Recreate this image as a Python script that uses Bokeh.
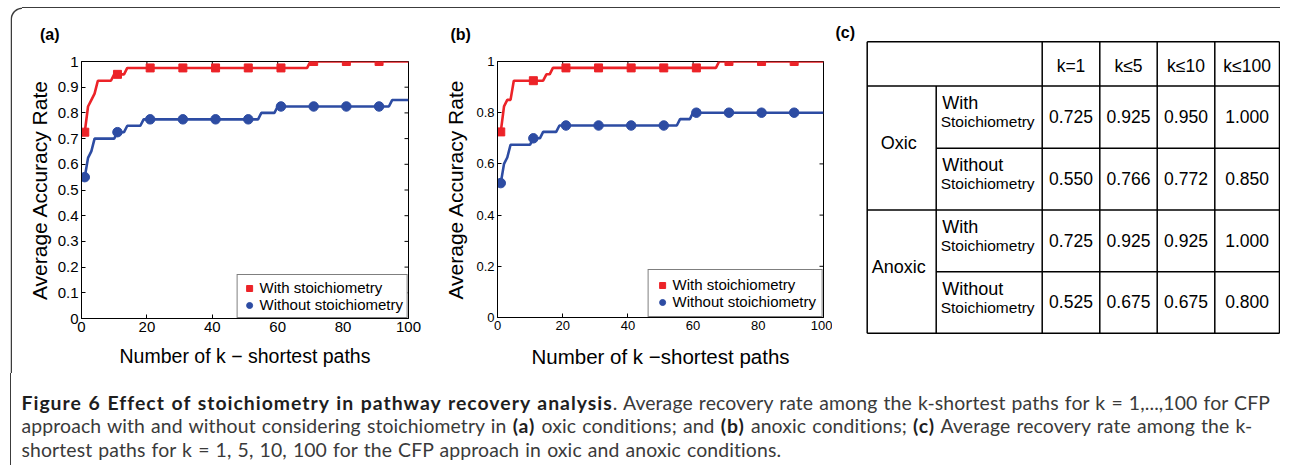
import math
from bokeh.plotting import figure
from bokeh.models import Range1d, FixedTicker, Div
from bokeh.layouts import row, column
from bokeh.embed import file_html
from bokeh.resources import INLINE
from bokeh.core.properties import value

# ---------------- data ----------------
marker_k = [1, 11, 21, 31, 41, 51, 61, 71, 81, 91]

# (a) oxic
a_with_k = [1, 2, 3, 4, 5, 9, 10, 13, 14, 69, 70, 100]
a_with_v = [0.725, 0.825, 0.85, 0.875, 0.925, 0.925, 0.95, 0.95, 0.975, 0.975, 1.0, 1.0]
a_without_k = [1, 2, 3, 4, 10, 11, 13, 14, 18, 19, 54, 55, 59, 60, 94, 95, 100]
a_without_v = [0.55, 0.625, 0.65, 0.70, 0.70, 0.725, 0.725, 0.75, 0.75, 0.775, 0.775, 0.80, 0.80, 0.825, 0.825, 0.85, 0.85]
a_with_marker = [0.725, 0.95, 0.975, 0.975, 0.975, 0.975, 0.975, 1.0, 1.0, 1.0]
a_without_marker = [0.55, 0.725, 0.775, 0.775, 0.775, 0.775, 0.825, 0.825, 0.825, 0.825]

# (b) anoxic
b_with_k = [1, 2, 3, 4, 5, 14, 15, 16, 17, 67, 68, 100]
b_with_v = [0.725, 0.825, 0.85, 0.85, 0.925, 0.925, 0.95, 0.95, 0.975, 0.975, 1.0, 1.0]
b_without_k = [1, 2, 3, 4, 10, 11, 13, 14, 18, 19, 55, 56, 59, 60, 100]
b_without_v = [0.525, 0.60, 0.625, 0.675, 0.675, 0.70, 0.70, 0.725, 0.725, 0.75, 0.75, 0.775, 0.775, 0.80, 0.80]
b_with_marker = [0.725, 0.925, 0.975, 0.975, 0.975, 0.975, 0.975, 1.0, 1.0, 1.0]
b_without_marker = [0.525, 0.70, 0.75, 0.75, 0.75, 0.75, 0.80, 0.80, 0.80, 0.80]

x_ticks = [0, 20, 40, 60, 80, 100]
a_y_ticks = [0, 0.1, 0.2, 0.3, 0.4, 0.5, 0.6, 0.7, 0.8, 0.9, 1]
b_y_ticks = [0, 0.2, 0.4, 0.6, 0.8, 1]

series_labels = ["With stoichiometry", "Without stoichiometry"]

# (c) table
table_header = ["k=1", "k\u22645", "k\u226410", "k\u2264100"]
conditions = ["Oxic", "Anoxic"]
method_top = ["With", "Without", "With", "Without"]
method_bottom = "Stoichiometry"
oxic_with = [0.725, 0.925, 0.950, 1.000]
oxic_without = [0.550, 0.766, 0.772, 0.850]
anoxic_with = [0.725, 0.925, 0.925, 1.000]
anoxic_without = [0.525, 0.675, 0.675, 0.800]

caption_lines = [
    "<b>Figure 6 Effect of stoichiometry in pathway recovery analysis</b>. Average recovery rate among the k-shortest paths for k = 1,...,100 for CFP",
    "approach with and without considering stoichiometry in <b>(a)</b> oxic conditions; and <b>(b)</b> anoxic conditions; <b>(c)</b> Average recovery rate among the k-",
    "shortest paths for k = 1, 5, 10, 100 for the CFP approach in oxic and anoxic conditions.",
]

RED = "#EC2328"
BLUE = "#2D4CA3"
FONT = "Liberation Sans"
FRAME = "#3c3c3c"
H = 364


def style_axis(ax, tick_size, label_size):
    ax.axis_line_color = "black"
    ax.axis_line_width = 1
    ax.major_tick_in = 4
    ax.major_tick_out = 0
    ax.major_tick_line_color = "black"
    ax.minor_tick_line_color = None
    ax.major_label_text_font = FONT
    ax.major_label_text_color = "black"
    ax.major_label_standoff = 3
    ax.major_label_text_font_size = tick_size
    ax.axis_label_text_font = FONT
    ax.axis_label_text_font_style = "normal"
    ax.axis_label_text_color = "black"
    ax.axis_label_text_font_size = label_size


def panel(letter, title_offset, wk, wv, wok, wov, wm, wom, yticks, width, borders,
          tick_size, xlabel, xlabel_size, ylabel_size, xlabel_standoff, ylabel_standoff,
          leg_pad):
    p = figure(width=width, height=H, x_range=Range1d(0, 100), y_range=Range1d(0, 1),
               output_backend="svg", toolbar_location=None, title=letter,
               min_border_left=borders[0], min_border_right=borders[1],
               min_border_top=borders[2], min_border_bottom=borders[3])
    p.frame_align = False
    p.outline_line_color = "black"
    p.xgrid.visible = False
    p.ygrid.visible = False
    p.xaxis.ticker = FixedTicker(ticks=x_ticks)
    p.yaxis.ticker = FixedTicker(ticks=yticks)
    p.yaxis.major_label_overrides = {0: "0", 1: "1"}
    p.xaxis.axis_label = xlabel
    p.yaxis.axis_label = "Average Accuracy Rate"
    style_axis(p.xaxis[0], tick_size, xlabel_size)
    style_axis(p.yaxis[0], tick_size, ylabel_size)
    p.xaxis.axis_label_standoff = xlabel_standoff
    p.yaxis.axis_label_standoff = ylabel_standoff

    p.title.align = "left"
    p.title.offset = title_offset
    p.title.text_font = FONT
    p.title.text_font_style = "bold"
    p.title.text_font_size = "16px"
    p.title.text_color = "black"
    p.title.vertical_align = "top"
    p.title.standoff = 34

    # inner ticks on the right and top edges (MATLAB box style)
    p.ray(x=[100] * len(yticks), y=yticks, length=4, length_units="screen",
          angle=math.pi, line_color="black", line_width=1)
    p.ray(x=x_ticks, y=[1] * len(x_ticks), length=4, length_units="screen",
          angle=-math.pi / 2, line_color="black", line_width=1)

    p.line(wk, wv, line_color=RED, line_width=2.6)
    p.line(wok, wov, line_color=BLUE, line_width=2.6)
    p.scatter(marker_k, wm, marker="square", size=8, color=RED, legend_label=series_labels[0])
    p.scatter(marker_k, wom, marker="circle", size=9.5, color=BLUE, legend_label=series_labels[1])

    lg = p.legend[0]
    lg.location = "bottom_right"
    lg.margin = 0
    lg.padding = leg_pad
    lg.spacing = 0
    lg.border_line_color = "black"
    lg.border_line_width = 1
    lg.background_fill_alpha = 1
    lg.label_text_font = FONT
    lg.label_text_font_size = "15px"
    lg.label_text_color = "black"
    lg.label_height = 16
    lg.glyph_height = 16
    lg.glyph_width = 15
    lg.label_standoff = 3
    return p


pa = panel("(a)", -41.5, a_with_k, a_with_v, a_without_k, a_without_v,
           a_with_marker, a_without_marker, a_y_ticks, 403, (59, 17, 52, 54),
           "15px", "Number of k \u2212 shortest paths", "19.5px", "21px", 10, 4, 4)
pb = panel("(b)", -47, b_with_k, b_with_v, b_without_k, b_without_v,
           b_with_marker, b_without_marker, b_y_ticks, 407, (72, 9, 51, 55),
           "13px", "Number of k \u2212shortest paths", "20.5px", "21px", 12, 6, 6)

# ---------------- table (c) ----------------
WC = 448
pc = figure(width=WC, height=H, x_range=Range1d(0, WC), y_range=Range1d(H, 0),
            output_backend="svg", toolbar_location=None, title_location=None,
            x_axis_location=None, y_axis_location=None, min_border=0)
pc.frame_align = False
pc.outline_line_color = None
pc.grid.visible = False

col_edges = [34.7, 103.7, 209.7, 267.3, 324.7, 382.3, 447.0]
row_edges = [33.2, 77.5, 139.8, 201.5, 263.2, 324.8]
x0, x1, y0, y1 = [], [], [], []
for i, y in enumerate(row_edges):
    start = col_edges[1] if i in (2, 4) else col_edges[0]
    x0.append(start); x1.append(col_edges[-1]); y0.append(y); y1.append(y)
for j, x in enumerate(col_edges):
    top = row_edges[1] if j == 1 else row_edges[0]
    x0.append(x); x1.append(x); y0.append(top); y1.append(row_edges[-1])
pc.segment(x0, y0, x1, y1, line_color="black", line_width=1.5)

col_centers = [(col_edges[j] + col_edges[j + 1]) / 2 for j in range(2, 6)]
row_centers = [(row_edges[i] + row_edges[i + 1]) / 2 for i in range(0, 5)]

pc.text(col_centers, [row_centers[0] + 2] * 4, text=table_header,
        text_font=value(FONT), text_font_size=value("17.5px"),
        text_align="center", text_baseline="middle", text_color="black")

vals = [oxic_with, oxic_without, anoxic_with, anoxic_without]
tx, ty, tt = [], [], []
for i, rowv in enumerate(vals):
    for j, v in enumerate(rowv):
        tx.append(col_centers[j]); ty.append(row_centers[i + 1] - 0.8); tt.append("%.3f" % v)
pc.text(tx, ty, text=tt, text_font=value(FONT), text_font_size=value("17.5px"),
        text_align="center", text_baseline="middle", text_color="black")

c0 = (col_edges[0] + col_edges[1]) / 2 - 3
pc.text([c0, c0], [(row_edges[1] + row_edges[3]) / 2 - 5, (row_edges[3] + row_edges[5]) / 2 - 5],
        text=conditions, text_font=value(FONT), text_font_size=value("18px"),
        text_align="center", text_baseline="middle", text_color="black")

pc.text([col_edges[1] + 6] * 4, [row_edges[i] + 17 for i in range(1, 5)], text=method_top,
        text_font=value(FONT), text_font_size=value("18px"),
        text_align="left", text_baseline="middle", text_color="black")
pc.text([col_edges[1] + 4.5] * 4, [row_edges[i] + 35.5 for i in range(1, 5)],
        text=[method_bottom] * 4, text_font=value(FONT), text_font_size=value("15.5px"),
        text_align="left", text_baseline="middle", text_color="black")

pc.text([3], [23.5], text=["(c)"], text_font=value(FONT), text_font_size=value("16px"),
        text_font_style="bold", text_align="left", text_baseline="middle", text_color="black")

# ---------------- frame corner (top-left rounded corner + left edge) ----------------
EW, EH = 12, 366
edge = figure(width=EW, height=EH, x_range=Range1d(0, EW), y_range=Range1d(EH, 0),
              output_backend="svg", toolbar_location=None, title_location=None,
              x_axis_location=None, y_axis_location=None, min_border=0)
edge.frame_align = False
edge.outline_line_color = None
edge.grid.visible = False
r = EW - 0.75
theta = [1.5 * math.pi - i * (math.pi / 2) / 24 for i in range(25)]
ex = [0.75 + r + r * math.cos(t) for t in theta] + [0.75]
ey = [0.75 + r + r * math.sin(t) for t in theta] + [EH]
edge.line(ex, ey, line_color=FRAME, line_width=1.5)

# ---------------- caption ----------------
cap_html = ('<div style="font-family:Lato;font-size:19.4px;line-height:23.5px;'
            'letter-spacing:0.12px;word-spacing:1px;box-sizing:border-box;height:92px;'
            'border-left:1.5px solid %s;'
            'color:#3a3a3a;padding:17.5px 0 0 10.5px;white-space:nowrap;margin:0">' % FRAME
            + "<br>".join(caption_lines) + "</div>")
cap_html = cap_html.replace("<b>", '<b style="color:#1e1e1e;letter-spacing:1px">')
cap = Div(text=cap_html, width=1270, height=92, margin=0)

# ---------------- layout ----------------
top_row = row(pa, pb, pc, spacing=0, styles={"border-top": "1.5px solid " + FRAME})
layout = column(row(edge, top_row, spacing=0), cap, spacing=0, margin=(7, 0, 0, 10))

open("out.html", "w").write(file_html(layout, INLINE))
